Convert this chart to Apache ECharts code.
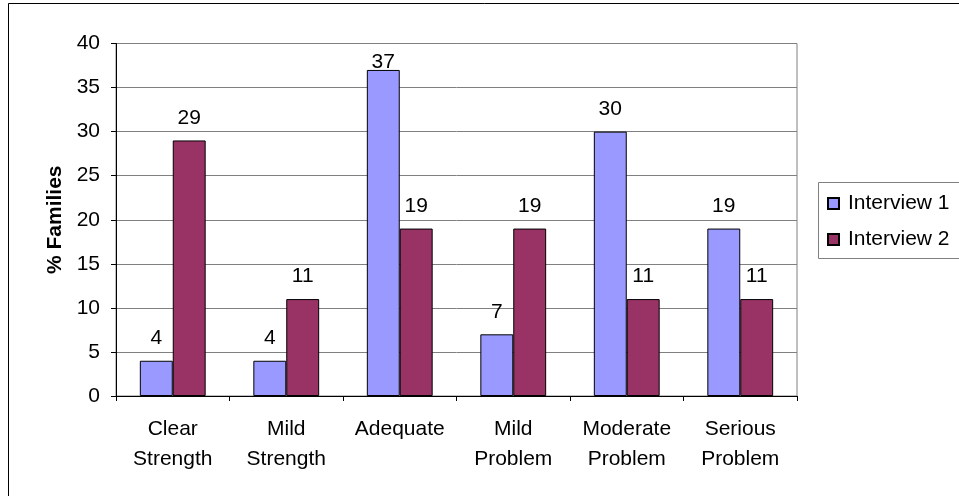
<!DOCTYPE html>
<html>
<head>
<meta charset="utf-8">
<script src="https://cdn.jsdelivr.net/npm/echarts@6/dist/echarts.min.js"></script>
<style>
html,body{margin:0;padding:0;background:#fff;}
#chart{width:959px;height:496px;}
</style>
</head>
<body>
<div id="chart"></div>
<script>
const categories = ['Clear Strength', 'Mild Strength', 'Adequate', 'Mild Problem', 'Moderate Problem', 'Serious Problem'];
const interview1 = [4, 4, 37, 7, 30, 19];
const interview2 = [29, 11, 19, 19, 11, 11];
const seriesNames = ['Interview 1', 'Interview 2'];
const yTicks = [0, 5, 10, 15, 20, 25, 30, 35, 40];
const yTitle = '% Families';

const FONT = '"Liberation Sans", Arial, sans-serif';
const FS = 21;
const colors = ['#9999FF', '#993366'];

function makeData(vals) {
  return vals.map(v => {
    const item = { value: v };
    if (v > 35) {
      item.label = { distance: 0, offset: [0, 3] };
    }
    return item;
  });
}

const chart = echarts.init(document.getElementById('chart'), null, { renderer: 'canvas' });
chart.setOption({
  animation: false,
  backgroundColor: '#ffffff',
  textStyle: { fontFamily: FONT },
  graphic: [
    { type: 'rect', shape: { x: 8.5, y: 3.5, width: 960, height: 500 }, style: { fill: 'none', stroke: '#000', lineWidth: 1 }, silent: true },
    { type: 'rect', shape: { x: 818.5, y: 182.5, width: 160, height: 76 }, style: { fill: 'none', stroke: '#808080', lineWidth: 1 }, silent: true }
  ],
  legend: {
    orient: 'vertical',
    left: 822,
    top: 188,
    itemWidth: 11,
    itemHeight: 11,
    itemGap: 15,
    icon: 'rect',
    textStyle: { fontFamily: FONT, fontSize: FS, color: '#000', padding: [0, 0, 0, 4] },
    data: seriesNames
  },
  grid: {
    left: 116, top: 43.5, right: 162, bottom: 100,
    show: true, borderColor: '#808080', borderWidth: 1, backgroundColor: 'transparent'
  },
  xAxis: {
    type: 'category',
    data: categories,
    axisLine: { lineStyle: { color: '#000', width: 1 } },
    axisTick: { show: true, length: 5, alignWithLabel: false, lineStyle: { color: '#000' } },
    axisLabel: {
      interval: 0, margin: 18, color: '#000', fontSize: FS, fontFamily: FONT, lineHeight: 30,
      formatter: v => v.replace(' ', '\n')
    }
  },
  yAxis: {
    type: 'value',
    min: yTicks[0], max: yTicks[yTicks.length - 1], interval: yTicks[1] - yTicks[0],
    name: yTitle,
    nameLocation: 'middle',
    nameGap: 50,
    nameRotate: 90,
    nameTextStyle: { fontFamily: FONT, fontSize: FS, fontWeight: 'bold', color: '#000' },
    axisLine: { show: true, lineStyle: { color: '#000', width: 1 } },
    axisTick: { show: true, length: 5, lineStyle: { color: '#000' } },
    axisLabel: { color: '#000', fontSize: FS, fontFamily: FONT, margin: 16 },
    splitLine: { show: true, lineStyle: { color: '#808080', width: 1 } }
  },
  series: [interview1, interview2].map((vals, i) => ({
    name: seriesNames[i],
    type: 'bar',
    data: makeData(vals),
    barGap: '0%',
    barCategoryGap: '42%',
    itemStyle: { color: colors[i], borderColor: '#000', borderWidth: 1 },
    label: { show: true, position: 'top', distance: 12, color: '#000', fontSize: FS, fontFamily: FONT }
  }))
});
</script>
</body>
</html>
